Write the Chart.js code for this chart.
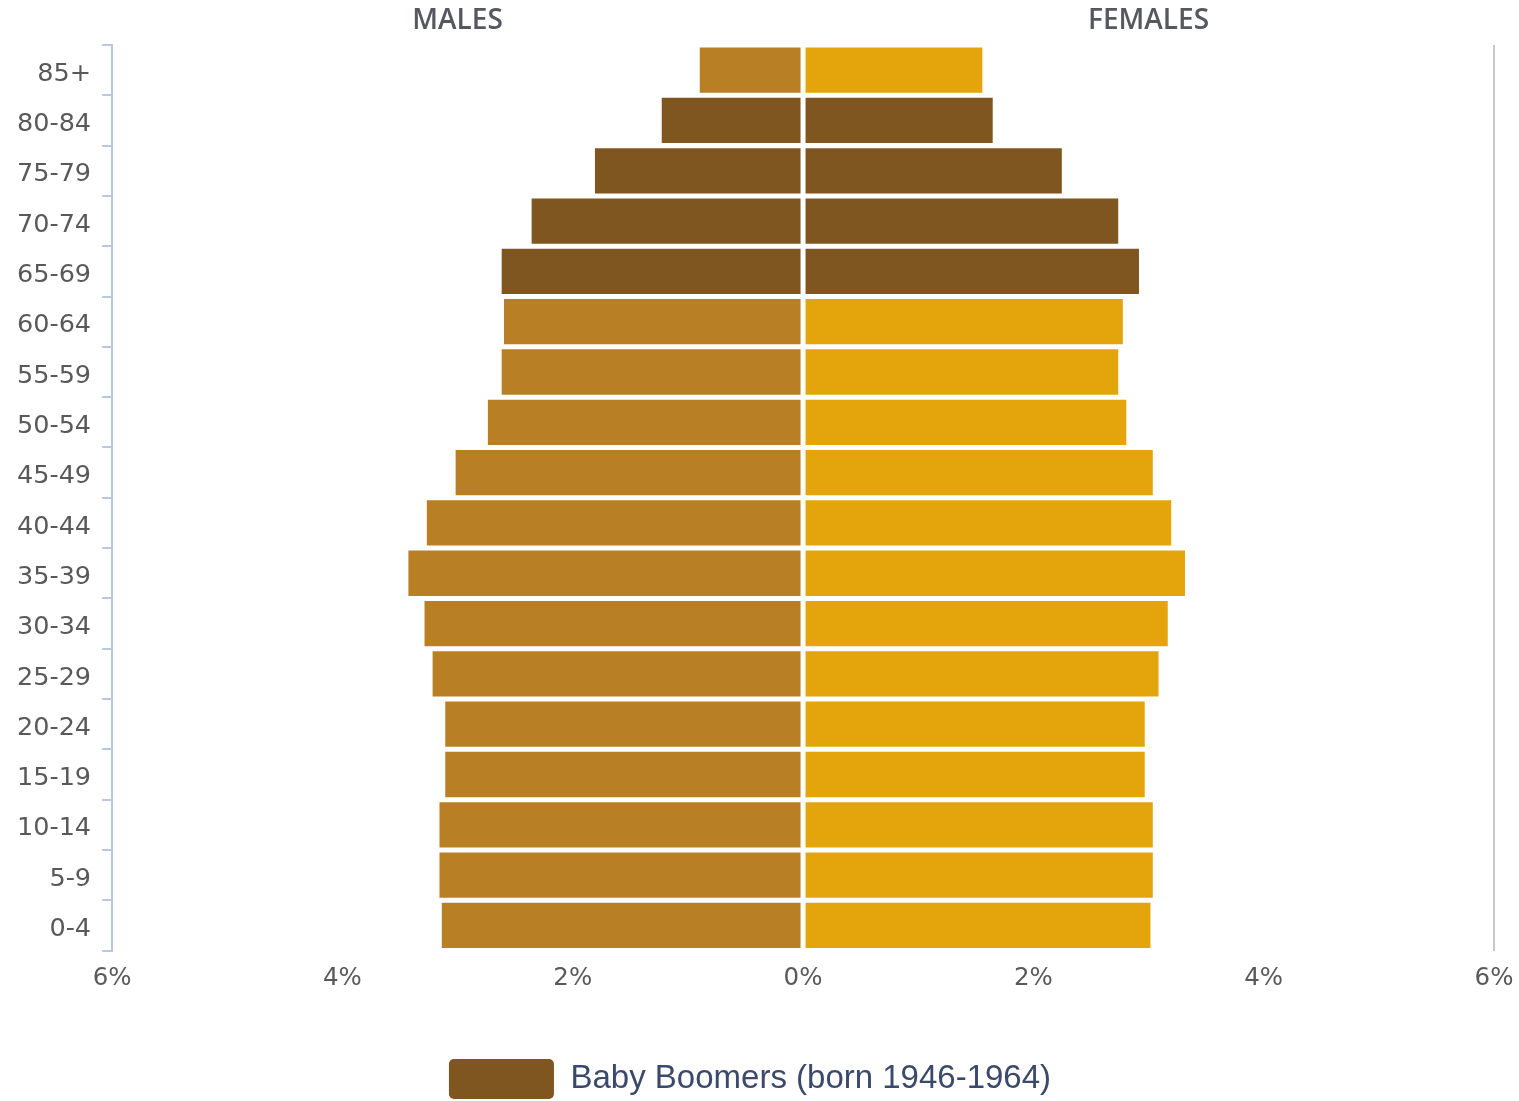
<!DOCTYPE html>
<html>
<head>
<meta charset="utf-8">
<script src="https://cdn.jsdelivr.net/npm/chart.js@4"></script>
<style>
  html, body { margin: 0; padding: 0; background: #fff; }
  #wrap { width: 1519px; height: 1101px; }
</style>
</head>
<body>
<div id="wrap"><canvas id="c" width="1519" height="1101"></canvas></div>
<script>
const ageGroups = ['85+','80-84','75-79','70-74','65-69','60-64','55-59','50-54','45-49','40-44','35-39','30-34','25-29','20-24','15-19','10-14','5-9','0-4'];
const malesPct   = [0.91,1.24,1.82,2.37,2.63,2.61,2.63,2.75,3.03,3.28,3.44,3.30,3.23,3.12,3.12,3.17,3.17,3.15];
const femalesPct = [1.57,1.66,2.26,2.75,2.93,2.79,2.75,2.82,3.05,3.21,3.33,3.18,3.10,2.98,2.98,3.05,3.05,3.03];
const boomerGroups = ['80-84','75-79','70-74','65-69'];
const xTicks = [-6,-4,-2,0,2,4,6];
const sideTitles = [{label:'MALES', at:-3},{label:'FEMALES', at:3}];
const legendLabel = 'Baby Boomers (born 1946-1964)';

const maleColor = '#B97F24', femaleColor = '#E4A50C', boomerColor = '#7F5520';
const isBoomer = ageGroups.map(g => boomerGroups.includes(g));

const sideTitlePlugin = {
  id: 'sideTitles',
  afterDraw(chart) {
    const ctx = chart.ctx, xs = chart.scales.x;
    ctx.save();
    ctx.font = '600 28px "Open Sans"';
    ctx.fillStyle = '#55585F';
    ctx.textAlign = 'center';
    ctx.textBaseline = 'middle';
    sideTitles.forEach(t => ctx.fillText(t.label, xs.getPixelForValue(t.at), 21));
    ctx.restore();
  }
};

new Chart(document.getElementById('c'), {
  type: 'bar',
  data: {
    labels: ageGroups,
    datasets: [
      { label: 'Males', data: malesPct.map(v => -v),
        backgroundColor: isBoomer.map(b => b ? boomerColor : maleColor),
        borderColor: '#ffffff', borderWidth: 1.5, borderSkipped: false },
      { label: 'Females', data: femalesPct,
        backgroundColor: isBoomer.map(b => b ? boomerColor : femaleColor),
        borderColor: '#ffffff', borderWidth: 1.5, borderSkipped: false }
    ]
  },
  options: {
    responsive: false,
    animation: false,
    indexAxis: 'y',
    layout: { padding: { top: 45, left: 6, right: 25, bottom: -8 } },
    datasets: { bar: { categoryPercentage: 0.96, barPercentage: 1 } },
    scales: {
      x: {
        stacked: true, min: -6, max: 6,
        afterBuildTicks(axis) { axis.ticks = xTicks.map(v => ({ value: v })); },
        afterFit(axis) { axis.paddingLeft = 0; axis.paddingRight = 0; },
        ticks: { callback: v => Math.abs(v) + '%', color: '#595959', font: { family: 'DejaVu Sans', size: 24.5 }, padding: 13 },
        grid: { drawTicks: false, color: ctx => (ctx.tick && ctx.tick.value === 6) ? '#C8C8C8' : 'rgba(0,0,0,0)', lineWidth: 2 },
        border: { display: false }
      },
      y: {
        stacked: true,
        ticks: { color: '#595959', font: { family: 'DejaVu Sans', size: 25.5 }, padding: 11, labelOffset: 4 },
        grid: { drawOnChartArea: false, drawTicks: true, tickLength: 10, color: '#B9C8DC', lineWidth: 2, offset: true },
        border: { display: true, color: '#B9C8DC', width: 2 }
      }
    },
    plugins: {
      tooltip: { enabled: false },
      legend: {
        position: 'bottom',
        labels: {
          boxWidth: 105, boxHeight: 40, padding: 53,
          color: '#3B4A6B', font: { family: 'Liberation Sans', size: 33 },
          useBorderRadius: true, borderRadius: 5,
          generateLabels: () => [{ text: legendLabel, fillStyle: boomerColor, strokeStyle: boomerColor, fontColor: '#3B4A6B', lineWidth: 0, borderRadius: 5, hidden: false, datasetIndex: 0 }]
        },
        onClick: () => {}
      }
    }
  },
  plugins: [sideTitlePlugin]
});
</script>
</body>
</html>
